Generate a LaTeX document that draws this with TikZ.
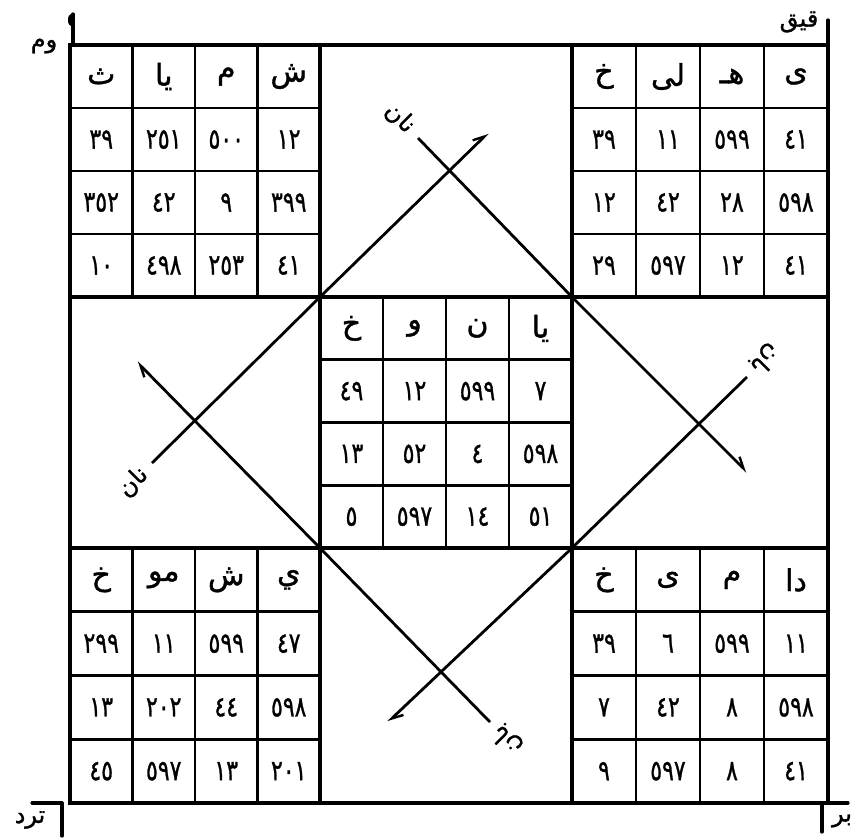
\documentclass[tikz,border=0pt]{standalone}
\usepackage{fontspec}
\usepackage{graphicx}
\usetikzlibrary{arrows.meta}
\newfontfamily\arabicfont[Script=Arabic,FakeBold=1.2]{DejaVu Sans}
\TeXXeTstate=1
\newcommand\ar[1]{{\arabicfont\beginR #1\endR}}
\newcommand\mtable[7]{%
  \pgfmathsetmacro\cw{(#4-#2)/4}%
  \pgfmathsetmacro\ch{(#5-#3)/4}%
  \foreach \kk in {1,2,3}{%
    \draw[gridl] ({#2+\kk*\cw},#3) -- ({#2+\kk*\cw},#5);
    \draw[gridl] (#2,{#3+\kk*\ch}) -- (#4,{#3+\kk*\ch});
  }%
  \foreach \tx [count=\i from 0] in {#6}{%
    \node[hdr] (#1-0-\i) at ({#2+(\i+0.5)*\cw},{#3+0.5*\ch}) {\ar{\tx}};
  }%
  \foreach \tx [count=\kk from 0] in {#7}{%
    \pgfmathtruncatemacro\ri{div(\kk,4)+1}%
    \pgfmathtruncatemacro\ci{mod(\kk,4)}%
    \node[num] (#1-\ri-\ci) at ({#2+(\ci+0.5)*\cw},{#3+(\ri+0.5)*\ch}) {\scalebox{1}[1.3]{\tx}};
  }%
}
\begin{document}
\begin{tikzpicture}[x=1pt,y=-1pt,
  frame/.style={line width=3.2pt,line cap=round},
  gridl/.style={line width=2.6pt},
  diag/.style={line width=2.8pt},
  arr/.style={-{Straight Barb[harpoon,length=11pt,width=11pt,line width=2.4pt]}},
  hdr/.style={inner sep=0pt,font=\fontsize{30}{30}\selectfont\arabicfont},
  num/.style={inner sep=0pt,font=\fontsize{22}{22}\selectfont\arabicfont},
  lbl/.style={inner sep=0pt,font=\fontsize{24}{24}\selectfont\arabicfont}]
\useasboundingbox (0,0) rectangle (857,839);
\fill[white] (0,0) rectangle (857,839);
% frame and 3x3 division
\draw[frame] (70,45) rectangle (828,803);
\draw[frame] (320,45) -- (320,803);
\draw[frame] (572,45) -- (572,803);
\draw[frame] (70,297) -- (828,297);
\draw[frame] (70,548) -- (828,548);
% corner extensions
\draw[frame] (73,45) -- (73,14);
\fill (71,20) ellipse (3pt and 6pt);
\draw[frame] (828,45) -- (828,20);
\draw[frame] (62,803) -- (62,836);
\draw[frame] (62,803) -- (32,803);
\draw[frame] (822,803) -- (822,832);
\draw[frame] (828,803) -- (848,803);
% tables
\mtable{tl}{70}{45}{320}{297}{ث,يا,م,ش}{٣٩,٢٥١,٥٠٠,١٢,٣٥٢,٤٢,٩,٣٩٩,١٠,٤٩٨,٢٥٣,٤١}
\mtable{tr}{572}{45}{828}{297}{خ,لى,هـ,ى}{٣٩,١١,٥٩٩,٤١,١٢,٤٢,٢٨,٥٩٨,٢٩,٥٩٧,١٢,٤١}
\mtable{ce}{320}{297}{572}{548}{خ,و,ن,يا}{٤٩,١٢,٥٩٩,٧,١٣,٥٢,٤,٥٩٨,٥,٥٩٧,١٤,٥١}
\mtable{bl}{70}{548}{320}{803}{خ,مو,ش,ي}{٢٩٩,١١,٥٩٩,٤٧,١٣,٢٠٢,٤٤,٥٩٨,٤٥,٥٩٧,١٣,٢٠١}
\mtable{br}{572}{548}{828}{803}{خ,ى,م,دا}{٣٩,٦,٥٩٩,١١,٧,٤٢,٨,٥٩٨,٩,٥٩٧,٨,٤١}
% diagonal crossings
\coordinate (cTL) at (320,297);
\coordinate (cTR) at (572,297);
\coordinate (cBL) at (320,548);
\coordinate (cBR) at (572,548);
\coordinate (eTopA) at (488,133);
\coordinate (eTopB) at (418,138);
\coordinate (eLeftA) at (152,463);
\coordinate (eLeftB) at (137,362);
\coordinate (eRightA) at (747,472);
\coordinate (eRightB) at (747,377);
\coordinate (eBotA) at (490,722);
\coordinate (eBotB) at (388,722);
\draw[diag,arr] (cTL) -- (eTopA);
\draw[diag] (cTR) -- (eTopB);
\draw[diag] (cTL) -- (eLeftA);
\draw[diag,arr] (cBL) -- (eLeftB);
\draw[diag,arr] (cTR) -- (eRightA);
\draw[diag] (cBR) -- (eRightB);
\draw[diag] (cBL) -- (eBotA);
\draw[diag,arr] (cBR) -- (eBotB);
% labels at line ends
\node[lbl,rotate=-45] (labTop) at (400,118) {\ar{نان}};
\node[lbl,rotate=45] (labLeft) at (133,482) {\ar{نان}};
\node[lbl,rotate=225] (labRight) at (765,359) {\ar{بان}};
\node[lbl,rotate=135] (labBot) at (507,740) {\ar{بان}};
% corner labels
\node[lbl] (cornTL) at (44,46) {\ar{وم}};
\node[lbl] (cornTR) at (799,22) {\ar{قيق}};
\node[lbl] (cornBL) at (30,820) {\ar{ترد}};
\node[lbl] (cornBR) at (842,821) {\ar{بر}};
\end{tikzpicture}
\end{document}
